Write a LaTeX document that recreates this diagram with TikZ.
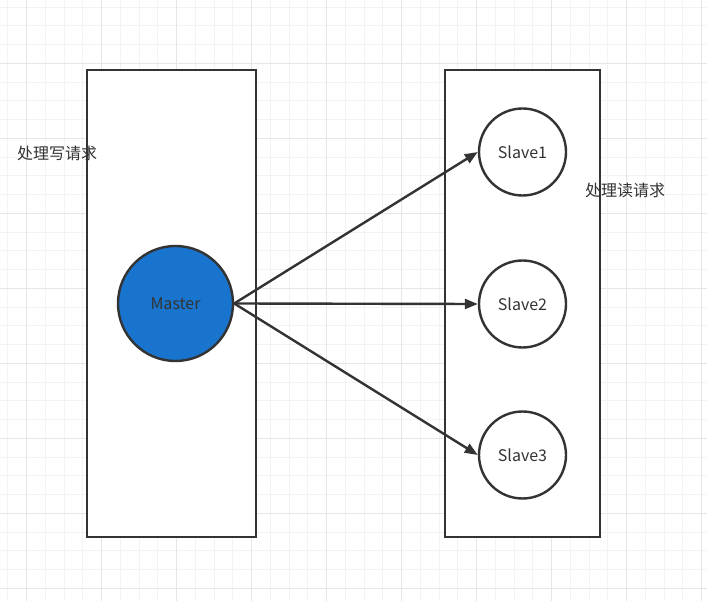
\documentclass[tikz,border=0pt]{standalone}
\usepackage{fontspec}
\setmainfont{Noto Sans CJK SC}
\usetikzlibrary{arrows.meta}

\begin{document}
\begin{tikzpicture}[x=1pt, y=-1pt]
    \def\pageW{707}
    \def\pageH{601}

    \definecolor{lineColour}{HTML}{333333}
    \definecolor{minorColour}{HTML}{F3F3F3}
    \definecolor{majorColour}{HTML}{E6E6E6}
    \definecolor{masterColour}{HTML}{1874CD}

    \tikzset{
        box/.style={draw=lineColour, fill=white, line width=2.4pt, inner sep=0pt},
        server/.style={circle, draw=lineColour, line width=2.4pt, inner sep=0pt,
            text=lineColour, font=\fontsize{16}{19}\selectfont},
        caption/.style={text=lineColour, inner sep=0pt, font=\fontsize{16}{19}\selectfont},
        link/.style={draw=lineColour, line width=2.4pt, -{Triangle[length=13pt,width=10pt]}}
    }

    \useasboundingbox (0,0) rectangle (\pageW,\pageH);
    \fill[white] (0,0) rectangle (\pageW,\pageH);

    % Draw grid
    \foreach \i in {0,...,37}
        \draw[minorColour, line width=1pt] (7.95+18.75*\i,0) -- (7.95+18.75*\i,\pageH);
    \foreach \j in {0,...,31}
        \draw[minorColour, line width=1pt] (0,7.05+18.75*\j) -- (\pageW,7.05+18.75*\j);
    \foreach \i in {0,...,9}
        \draw[majorColour, line width=1pt] (26.7+75*\i,0) -- (26.7+75*\i,\pageH);
    \foreach \j in {0,...,7}
        \draw[majorColour, line width=1pt] (0,63.3+75*\j) -- (\pageW,63.3+75*\j);

    % Boxes
    \node[box, minimum width=169pt, minimum height=467pt] (writeBox) at (171.5,303.5) {};
    \node[box, minimum width=155pt, minimum height=467pt] (readBox) at (522.5,303.5) {};

    % Captions
    \node[caption] (writeText) at (57,153) {处理写请求};
    \node[caption] (readText) at (625,190) {处理读请求};

    % Master and slaves
    \node[server, fill=masterColour, minimum size=115pt] (master) at (175.5,303.5) {Master};
    \node[server, fill=white, minimum size=87pt] (slaveA) at (522.5,152) {Slave1};
    \node[server, fill=white, minimum size=87pt] (slaveB) at (522.5,304) {Slave2};
    \node[server, fill=white, minimum size=87pt] (slaveC) at (522.5,455) {Slave3};

    % Replication arrows
    \draw[link] (master.east) -- (slaveA.west);
    \draw[link] (master.east) -- (slaveB.west);
    \draw[link] (master.east) -- (slaveC.west);

\end{tikzpicture}
\end{document}
